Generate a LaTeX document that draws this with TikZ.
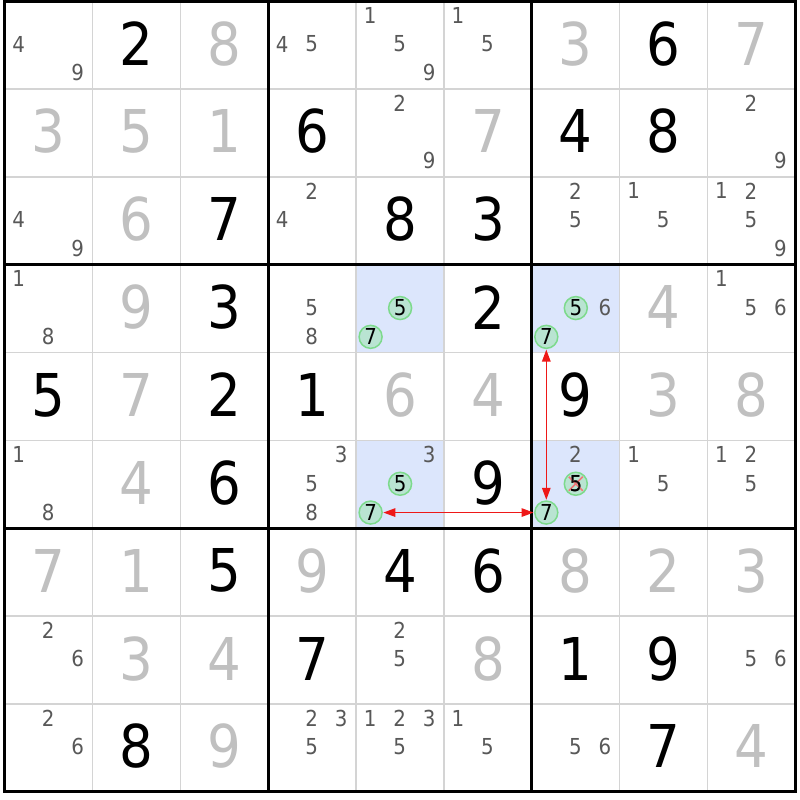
\documentclass[tikz,border=0pt]{standalone}
\usepackage{fontspec}
\setmainfont{DejaVu Sans Condensed}
\usetikzlibrary{arrows.meta}
\definecolor{givencol}{RGB}{0,0,0}
\definecolor{solvedcol}{RGB}{192,192,192}
\definecolor{candcol}{RGB}{88,88,88}
\definecolor{hlcol}{RGB}{220,230,252}
\definecolor{thincol}{RGB}{212,212,212}
\definecolor{circfill}{RGB}{185,228,210}
\definecolor{circline}{RGB}{125,218,140}
\definecolor{arrowred}{RGB}{238,24,24}
\definecolor{xred}{RGB}{240,120,120}
\newcommand\gx{4.7}
\newcommand\gy{1.2}
\newcommand\cs{87.85}
\tikzset{
  givenst/.style={inner sep=0pt, text=givencol, font=\fontsize{59}{60}\selectfont},
  solvedst/.style={inner sep=0pt, text=solvedcol, font=\fontsize{59}{60}\selectfont},
  candst/.style={inner sep=0pt, text=candcol, font=\fontsize{22}{23}\selectfont},
  circst/.style={circle, inner sep=0pt, minimum size=23pt, draw=circline, fill=circfill, line width=1.5pt, text=black, font=\fontsize{22}{23}\selectfont},
  thinln/.style={draw=thincol, line width=1.5pt},
  thickln/.style={draw=black, line width=2.8pt},
  linkarrow/.style={draw=arrowred, line width=1.4pt, {Triangle[length=12pt,width=8.5pt]}-{Triangle[length=12pt,width=8.5pt]}, shorten <=0.5pt, shorten >=0.5pt}
}
\newcommand\gv[3]{\node[givenst] (g#1#2) at ({\gx+\cs*(#2+0.5)},{\gy+\cs*(#1+0.5)-1.5}) {#3};}
\newcommand\sv[3]{\node[solvedst] (s#1#2) at ({\gx+\cs*(#2+0.5)},{\gy+\cs*(#1+0.5)-1.5}) {#3};}
\newcommand\cd[3]{\foreach \k in {#3}{%
  \pgfmathsetmacro\mycol{mod(\k-1,3)}%
  \pgfmathsetmacro\myrow{int((\k-1)/3)}%
  \node[candst] (c#1#2\k) at ({\gx+\cs*#2+14+29.5*\mycol},{\gy+\cs*#1+14+28.8*\myrow}) {\k};}}
\newcommand\circd[4]{%
  \pgfmathsetmacro\mycol{mod(#3-1,3)}%
  \pgfmathsetmacro\myrow{int((#3-1)/3)}%
  \node[circst] (#4) at ({\gx+\cs*#2+14.5+29.5*\mycol},{\gy+\cs*#1+14.5+28.8*\myrow}) {#3};}
\newcommand\hlcell[2]{\fill[hlcol] ({\gx+\cs*#2},{\gy+\cs*#1}) rectangle ({\gx+\cs*(#2+1)},{\gy+\cs*(#1+1)});}
\begin{document}
\begin{tikzpicture}[x=1pt,y=-1pt]
\useasboundingbox (0,0) rectangle (800,800);
\fill[white] (0,0) rectangle (800,800);
% highlighted cells
\hlcell{3}{4}\hlcell{3}{6}\hlcell{5}{4}\hlcell{5}{6}
% thin grid lines
\foreach \i in {1,2,4,5,7,8}{
  \draw[thinln] ({\gx+\cs*\i},{\gy}) -- ({\gx+\cs*\i},{\gy+\cs*9});
  \draw[thinln] ({\gx},{\gy+\cs*\i}) -- ({\gx+\cs*9},{\gy+\cs*\i});
}
% thick grid lines
\foreach \i in {3,6}{
  \draw[thickln] ({\gx+\cs*\i},{\gy}) -- ({\gx+\cs*\i},{\gy+\cs*9});
  \draw[thickln] ({\gx},{\gy+\cs*\i}) -- ({\gx+\cs*9},{\gy+\cs*\i});
}
\draw[thickln] ({\gx},{\gy}) rectangle ({\gx+\cs*9},{\gy+\cs*9});
% row 0
\cd{0}{0}{4,9}\gv{0}{1}{2}\sv{0}{2}{8}\cd{0}{3}{4,5}\cd{0}{4}{1,5,9}\cd{0}{5}{1,5}\sv{0}{6}{3}\gv{0}{7}{6}\sv{0}{8}{7}
% row 1
\sv{1}{0}{3}\sv{1}{1}{5}\sv{1}{2}{1}\gv{1}{3}{6}\cd{1}{4}{2,9}\sv{1}{5}{7}\gv{1}{6}{4}\gv{1}{7}{8}\cd{1}{8}{2,9}
% row 2
\cd{2}{0}{4,9}\sv{2}{1}{6}\gv{2}{2}{7}\cd{2}{3}{2,4}\gv{2}{4}{8}\gv{2}{5}{3}\cd{2}{6}{2,5}\cd{2}{7}{1,5}\cd{2}{8}{1,2,5,9}
% row 3
\cd{3}{0}{1,8}\sv{3}{1}{9}\gv{3}{2}{3}\cd{3}{3}{5,8}
\circd{3}{4}{5}{a345}\circd{3}{4}{7}{a347}
\gv{3}{5}{2}
\circd{3}{6}{5}{a365}\cd{3}{6}{6}\circd{3}{6}{7}{a367}
\sv{3}{7}{4}\cd{3}{8}{1,5,6}
% row 4
\gv{4}{0}{5}\sv{4}{1}{7}\gv{4}{2}{2}\gv{4}{3}{1}\sv{4}{4}{6}\sv{4}{5}{4}\gv{4}{6}{9}\sv{4}{7}{3}\sv{4}{8}{8}
% row 5
\cd{5}{0}{1,8}\sv{5}{1}{4}\gv{5}{2}{6}\cd{5}{3}{3,5,8}
\cd{5}{4}{3}\circd{5}{4}{5}{a545}\circd{5}{4}{7}{a547}
\gv{5}{5}{9}
\cd{5}{6}{2}\circd{5}{6}{5}{a565}\circd{5}{6}{7}{a567}
\cd{5}{7}{1,5}\cd{5}{8}{1,2,5}
% elimination cross
\draw[xred, line width=1.6pt] ([shift={(-7,-7)}]a565.center) -- ([shift={(7,7)}]a565.center);
\draw[xred, line width=1.6pt] ([shift={(7,-7)}]a565.center) -- ([shift={(-7,7)}]a565.center);
\node[inner sep=0pt, text=black, font=\fontsize{22}{23}\selectfont, opacity=0.85] (a565t) at (a565.center) {5};
% row 6
\sv{6}{0}{7}\sv{6}{1}{1}\gv{6}{2}{5}\sv{6}{3}{9}\gv{6}{4}{4}\gv{6}{5}{6}\sv{6}{6}{8}\sv{6}{7}{2}\sv{6}{8}{3}
% row 7
\cd{7}{0}{2,6}\sv{7}{1}{3}\sv{7}{2}{4}\gv{7}{3}{7}\cd{7}{4}{2,5}\sv{7}{5}{8}\gv{7}{6}{1}\gv{7}{7}{9}\cd{7}{8}{5,6}
% row 8
\cd{8}{0}{2,6}\gv{8}{1}{8}\sv{8}{2}{9}\cd{8}{3}{2,3,5}\cd{8}{4}{1,2,3,5}\cd{8}{5}{1,5}\cd{8}{6}{5,6}\gv{8}{7}{7}\sv{8}{8}{4}
% links
\draw[linkarrow] (a367) -- (a567);
\draw[linkarrow] (a547) -- (a567);
\end{tikzpicture}
\end{document}
